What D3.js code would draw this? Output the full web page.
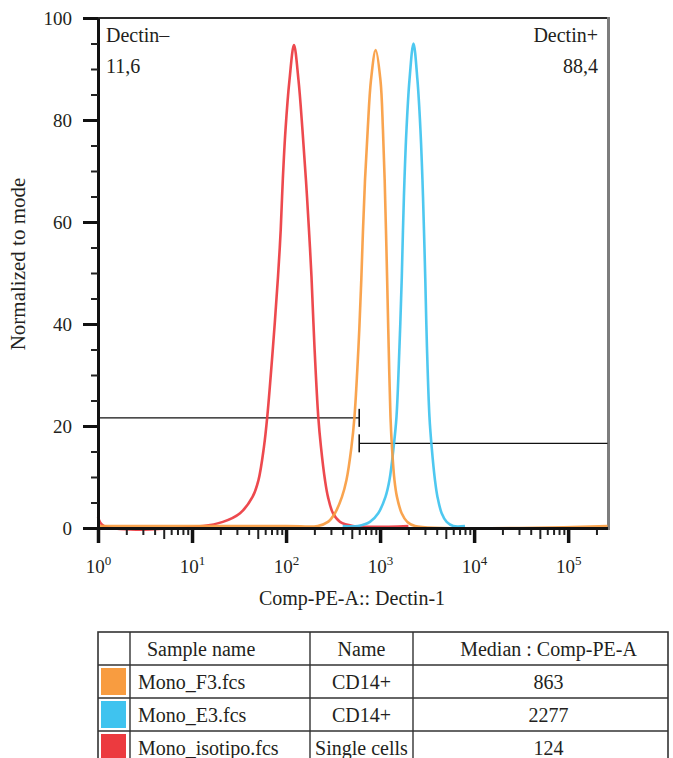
<!DOCTYPE html>
<html>
<head>
<meta charset="utf-8">
<script src="https://cdnjs.cloudflare.com/ajax/libs/d3/7.8.5/d3.min.js"></script>
<style>
  body { margin: 0; background: #fff; }
  svg text { font-family: "Liberation Serif", "DejaVu Serif", serif; fill: #231f20; }
</style>
</head>
<body>
<svg width="673" height="758"></svg>
<script>

// samples shown in the table (and drawn as histograms)
const samples = ["Mono_F3.fcs", "Mono_E3.fcs", "Mono_isotipo.fcs"];
const popNames = ["CD14+", "CD14+", "Single cells"];
const medians = [863, 2277, 124];
const colors = ["#f89c40", "#3fc3ef", "#ec3a3f"];

// histogram traces: intensity (Comp-PE-A) and % of mode
const f3Intensity = [1, 100, 218, 279, 331, 393, 439, 496, 534, 589, 631, 658, 691, 738, 800, 898,
    1009, 1073, 1119, 1155, 1189, 1234, 1290, 1337, 1422, 1512, 1696, 1946, 2349, 262144];
const f3Mode = [0.4, 0.4, 0.4, 1.2, 2.9, 6.1, 9.4, 15.9, 21.8, 35.5, 48.6, 58.4, 68.2, 78.0, 87.8, 93.7,
    87.8, 78.0, 68.2, 58.4, 48.6, 35.5, 21.8, 15.9, 9.4, 6.1, 2.9, 1.2, 0.4, 0.4];

const e3Intensity = [400, 582, 780, 956, 1141, 1258, 1394, 1494, 1607, 1700, 1751, 1816, 1907, 2053, 2265,
    2497, 2688, 2823, 2929, 3023, 3151, 3350, 3536, 3833, 4076, 4518, 5105, 6000, 8000];
const e3Mode = [0.4, 0.4, 1.2, 2.9, 6.1, 9.4, 15.9, 21.8, 35.5, 49.0, 58.4, 68.2, 78.0, 87.8, 95.0,
    87.8, 78.0, 68.2, 58.4, 49.0, 35.5, 21.8, 15.9, 9.4, 6.1, 2.9, 1.2, 0.4, 0.4];

const isoIntensity = [1, 1.15, 13.1, 21.3, 32.4, 44.0, 50.9, 58.2, 63.1, 72.6, 82.1, 87.7, 92.3, 98.6, 108.7, 121.4,
    135.6, 149.5, 162.8, 175.3, 186.4, 200.6, 220.1, 235.1, 259.4, 279.1, 315.4, 374.5, 514.6, 2000];
const isoMode = [2.2, 0.4, 0.4, 1.2, 2.9, 6.1, 9.4, 15.9, 21.8, 35.5, 49.3, 58.4, 68.2, 78.0, 87.8, 94.7,
    87.8, 78.0, 68.2, 58.4, 49.3, 35.5, 21.8, 15.9, 9.4, 6.1, 2.9, 1.2, 0.4, 0.4];

// gates
const gateNames = ["Dectin\u2013", "Dectin+"];
const gatePercents = ["11,6", "88,4"];
const gateBounds = [[1, 600], [600, 262144]];
const gateLevels = [21.6, 16.6];

// axis ticks
const yTicks = [0, 20, 40, 60, 80, 100];
const yMinor = [5, 10, 15, 25, 30, 35, 45, 50, 55, 65, 70, 75, 85, 90, 95];
const xDecades = [0, 1, 2, 3, 4, 5];

const svg = d3.select("svg");
const x = d3.scaleLog().domain([1, 262144]).range([98, 607.5]);
const y = d3.scaleLinear().domain([0, 100]).range([528, 18]);

// frame (top and right)
svg.append("line").attr("x1", 97).attr("x2", 609).attr("y1", 18).attr("y2", 18)
    .attr("stroke", "#2a2a2a").attr("stroke-width", 2);
svg.append("line").attr("x1", 608.5).attr("x2", 608.5).attr("y1", 17).attr("y2", 530)
    .attr("stroke", "#7d7d7d").attr("stroke-width", 3);

// gate annotation lines
gateBounds.forEach((b, i) => {
    const gy = y(gateLevels[i]);
    svg.append("line").attr("x1", x(b[0])).attr("x2", x(b[1])).attr("y1", gy).attr("y2", gy)
        .attr("stroke", "#111").attr("stroke-width", 1.3);
    const bx = i === 0 ? x(b[1]) : x(b[0]);
    svg.append("line").attr("x1", bx).attr("x2", bx).attr("y1", gy - 9).attr("y2", gy + 9)
        .attr("stroke", "#111").attr("stroke-width", 1.6);
});

// histograms (isotype first so the F3 trace sits on top)
const line = d3.line().x(d => x(d[0])).y(d => y(d[1])).curve(d3.curveCatmullRom.alpha(0.5));
const traces = [
    {xs: isoIntensity, ys: isoMode, color: colors[2]},
    {xs: e3Intensity, ys: e3Mode, color: colors[1]},
    {xs: f3Intensity, ys: f3Mode, color: colors[0]}
];
traces.forEach(t => {
    svg.append("path")
        .datum(d3.zip(t.xs, t.ys))
        .attr("d", line)
        .attr("fill", "none")
        .attr("stroke", t.color)
        .attr("stroke-width", 2.6)
        .attr("stroke-opacity", 0.92)
        .attr("stroke-linejoin", "round");
});

// y axis
const yAxis = svg.append("g").attr("transform", "translate(98,0)")
    .call(d3.axisLeft(y).tickValues(yTicks).tickSize(15).tickSizeOuter(0).tickPadding(11));
yAxis.select(".domain").attr("stroke", "#111").attr("stroke-width", 3);
yAxis.selectAll(".tick line").attr("stroke", "#111").attr("stroke-width", 3);
yAxis.selectAll(".tick text").style("font-size", "19px").attr("dy", "0.34em");

const yMinorAxis = svg.append("g").attr("transform", "translate(98,0)")
    .call(d3.axisLeft(y).tickValues(yMinor).tickSize(7).tickFormat(""));
yMinorAxis.select(".domain").remove();
yMinorAxis.selectAll(".tick line").attr("stroke", "#222").attr("stroke-width", 2);

// x axis
const xMinor = [];
xDecades.forEach(e => {
    for (let k = 2; k <= 9; k++) {
        const v = k * Math.pow(10, e);
        if (v <= 262144) xMinor.push(v);
    }
});
const xMinorAxis = svg.append("g").attr("transform", "translate(0,528)")
    .call(d3.axisBottom(x).tickValues(xMinor).tickSize(7).tickFormat(""));
xMinorAxis.select(".domain").remove();
xMinorAxis.selectAll(".tick line")
    .attr("stroke", "#222").attr("stroke-width", 2)
    .attr("y2", d => Math.round(d / Math.pow(10, Math.floor(Math.log10(d) + 1e-9))) === 5 ? 11 : 7);

const xAxis = svg.append("g").attr("transform", "translate(0,528)")
    .call(d3.axisBottom(x).tickValues(xDecades.map(e => Math.pow(10, e))).tickSize(15).tickSizeOuter(0));
xAxis.select(".domain").attr("stroke", "#111").attr("stroke-width", 3);
xAxis.selectAll(".tick line").attr("stroke", "#111").attr("stroke-width", 3.5);
xAxis.selectAll(".tick text").each(function(d, i) {
    const t = d3.select(this).text(null).attr("y", 45).attr("dy", null).style("font-size", "19px");
    t.append("tspan").text("10");
    t.append("tspan").text(xDecades[i]).attr("dy", -8).style("font-size", "13px");
});

// axis titles
svg.append("text").attr("x", 352).attr("y", 605).attr("text-anchor", "middle")
    .style("font-size", "20px").text("Comp-PE-A:: Dectin-1");
svg.append("text").attr("transform", "translate(25,264) rotate(-90)").attr("text-anchor", "middle")
    .style("font-size", "21px").text("Normalized to mode");

// gate labels
svg.append("text").attr("x", 106).attr("y", 42).style("font-size", "20px").text(gateNames[0]);
svg.append("text").attr("x", 106).attr("y", 73).style("font-size", "20px").text(gatePercents[0]);
svg.append("text").attr("x", 598).attr("y", 42).attr("text-anchor", "end").style("font-size", "20px").text(gateNames[1]);
svg.append("text").attr("x", 598).attr("y", 73).attr("text-anchor", "end").style("font-size", "20px").text(gatePercents[1]);

// legend table
const colX = [98, 130, 310, 413, 668];
const rowY = [632, 665, 698, 731, 764];
const table = svg.append("g");
table.append("rect").attr("x", colX[0]).attr("y", rowY[0]).attr("width", colX[4] - colX[0]).attr("height", rowY[4] - rowY[0])
    .attr("fill", "none").attr("stroke", "#333").attr("stroke-width", 1.6);
colX.slice(1, 4).forEach(cx => {
    table.append("line").attr("x1", cx).attr("x2", cx).attr("y1", rowY[0]).attr("y2", rowY[4])
        .attr("stroke", "#333").attr("stroke-width", 1.4);
});
rowY.slice(1, 4).forEach(ry => {
    table.append("line").attr("x1", colX[0]).attr("x2", colX[4]).attr("y1", ry).attr("y2", ry)
        .attr("stroke", "#333").attr("stroke-width", 1.4);
});
const headers = ["Sample name", "Name", "Median : Comp-PE-A"];
table.append("text").attr("x", 147).attr("y", rowY[0] + 24).style("font-size", "20px").text(headers[0]);
table.append("text").attr("x", (colX[2] + colX[3]) / 2).attr("y", rowY[0] + 24).attr("text-anchor", "middle")
    .style("font-size", "20px").text(headers[1]);
table.append("text").attr("x", (colX[3] + colX[4]) / 2 + 8).attr("y", rowY[0] + 24).attr("text-anchor", "middle")
    .style("font-size", "20px").text(headers[2]);

samples.forEach((s, i) => {
    const top = rowY[i + 1];
    table.append("rect").attr("x", colX[0] + 3).attr("y", top + 3).attr("width", 25).attr("height", 27)
        .attr("fill", colors[i]);
    table.append("text").attr("x", colX[1] + 8).attr("y", top + 24).style("font-size", "20px").text(s);
    table.append("text").attr("x", (colX[2] + colX[3]) / 2).attr("y", top + 24).attr("text-anchor", "middle")
        .style("font-size", "20px").text(popNames[i]);
    table.append("text").attr("x", (colX[3] + colX[4]) / 2 + 8).attr("y", top + 24).attr("text-anchor", "middle")
        .style("font-size", "20px").text(medians[i]);
});

</script>
</body>
</html>
